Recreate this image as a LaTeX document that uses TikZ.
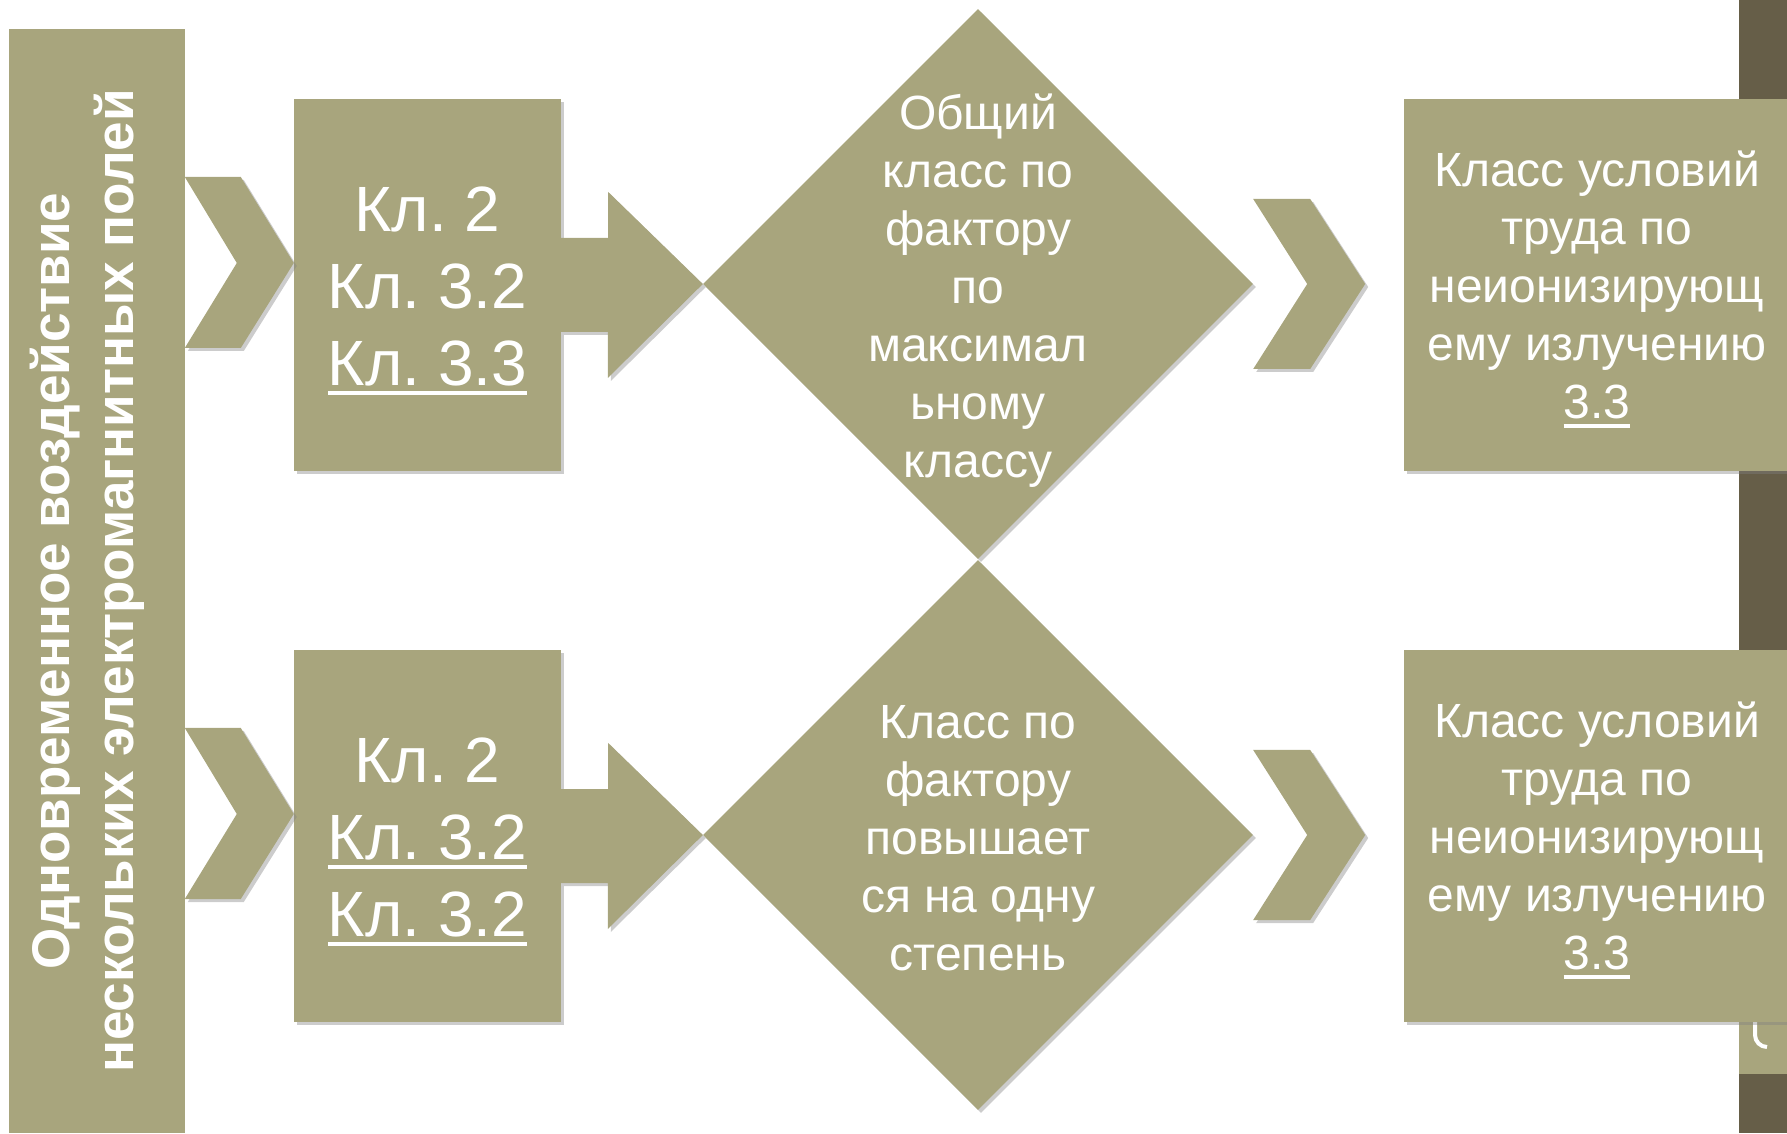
\documentclass[tikz,border=0pt]{standalone}
\usepackage{fontspec}
\setmainfont{Liberation Sans}
\usepackage{tikz}
\usetikzlibrary{shapes.geometric}
\usetikzlibrary{shadows}
\definecolor{olivebox}{RGB}{168,165,125}
\definecolor{darkbar}{RGB}{102,94,72}
\frenchspacing
\newcommand\undl[1]{\setbox0\hbox{#1}\rlap{\vrule height -5pt depth 9.5pt width \wd0}\box0}
\newcommand\klstrut{\rule{0pt}{57pt}}
\newcommand\resstrut{\rule{0pt}{45pt}}
\tikzset{
  boxshadow/.style={drop shadow={shadow xshift=3pt,shadow yshift=-3pt,opacity=.4}},
  block/.style={fill=olivebox,boxshadow,inner sep=0pt},
  kltext/.style={text=white,align=center,font=\fontsize{64}{77}\selectfont},
  bodytext/.style={text=white,align=center,font=\fontsize{48}{58}\selectfont}
}

\begin{document}
\begin{tikzpicture}[x=1pt,y=1pt]
    \useasboundingbox (0,0) rectangle (1787,1133);
    \fill[darkbar] (1739,0) rectangle (1787,1133);
    \fill[olivebox] (1739,59) rectangle (1787,118);
    \draw[white,line width=4pt] (1755,111) -- (1755,98)
      to [out=down,in=left] (1767,86);
    \node[fill=olivebox,minimum width=176,minimum height=1104,inner sep=0pt] (side) at (97,552) {};
    \node[rotate=90,text=white,align=center,font=\bfseries\fontsize{53}{64}\selectfont] (sidetxt) at (87,552)
      {Одновременное воздействие\\нескольких электромагнитных полей};
    \node[block,kltext,minimum width=267,minimum height=372] (kl1) at (427.5,848)
      {\klstrut Кл. 2\\Кл. 3.2\\\undl{Кл. 3.3}};
    \node[block,kltext,minimum width=267,minimum height=372] (kl2) at (427.5,297)
      {\klstrut Кл. 2\\\undl{Кл. 3.2}\\\undl{Кл. 3.2}};
    \node[block,bodytext,minimum width=386,minimum height=372] (res1) at (1597,848)
      {\resstrut Класс условий\\труда по\\неионизирующ\\ему излучению\\\undl{3.3}};
    \node[block,bodytext,minimum width=386,minimum height=372] (res2) at (1597,297)
      {\resstrut Класс условий\\труда по\\неионизирующ\\ему излучению\\\undl{3.3}};
    \node[block,diamond,minimum width=550,minimum height=550] (dia1) at (978,849) {};
    \node[block,diamond,minimum width=550,minimum height=550] (dia2) at (978,298) {};
    \fill[olivebox,boxshadow] ([yshift=47pt]kl1.east) -- ++(47,0) -- ++(0,46)
      -- (dia1.west) -- ++(-95,-94) -- ++(0,46) -- ([yshift=-47pt]kl1.east) -- cycle;
    \fill[olivebox,boxshadow] ([yshift=47pt]kl2.east) -- ++(47,0) -- ++(0,46)
      -- (dia2.west) -- ++(-95,-94) -- ++(0,46) -- ([yshift=-47pt]kl2.east) -- cycle;
    \node[bodytext] (dia1txt) at (978,842)
      {Общий\\класс по\\фактору\\по\\максимал\\ьному\\классу};
    \node[bodytext] (dia2txt) at (978,295)
      {Класс по\\фактору\\повышает\\ся на одну\\степень};
    \fill[olivebox,boxshadow] ([yshift=22pt]kl1.west) -- ++(-53,86) -- ++(-56,0)
      -- ++(52,-86) -- ++(-52,-85) -- ++(56,0) -- cycle;
    \fill[olivebox,boxshadow] ([yshift=22pt]kl2.west) -- ++(-53,86) -- ++(-56,0)
      -- ++(52,-86) -- ++(-52,-85) -- ++(56,0) -- cycle;
    \fill[olivebox,boxshadow] ([xshift=112pt]dia1.east) -- ++(-55,85) -- ++(-57,0)
      -- ++(54,-85) -- ++(-54,-85) -- ++(57,0) -- cycle;
    \fill[olivebox,boxshadow] ([xshift=112pt]dia2.east) -- ++(-55,85) -- ++(-57,0)
      -- ++(54,-85) -- ++(-54,-85) -- ++(57,0) -- cycle;
\end{tikzpicture}
\end{document}
